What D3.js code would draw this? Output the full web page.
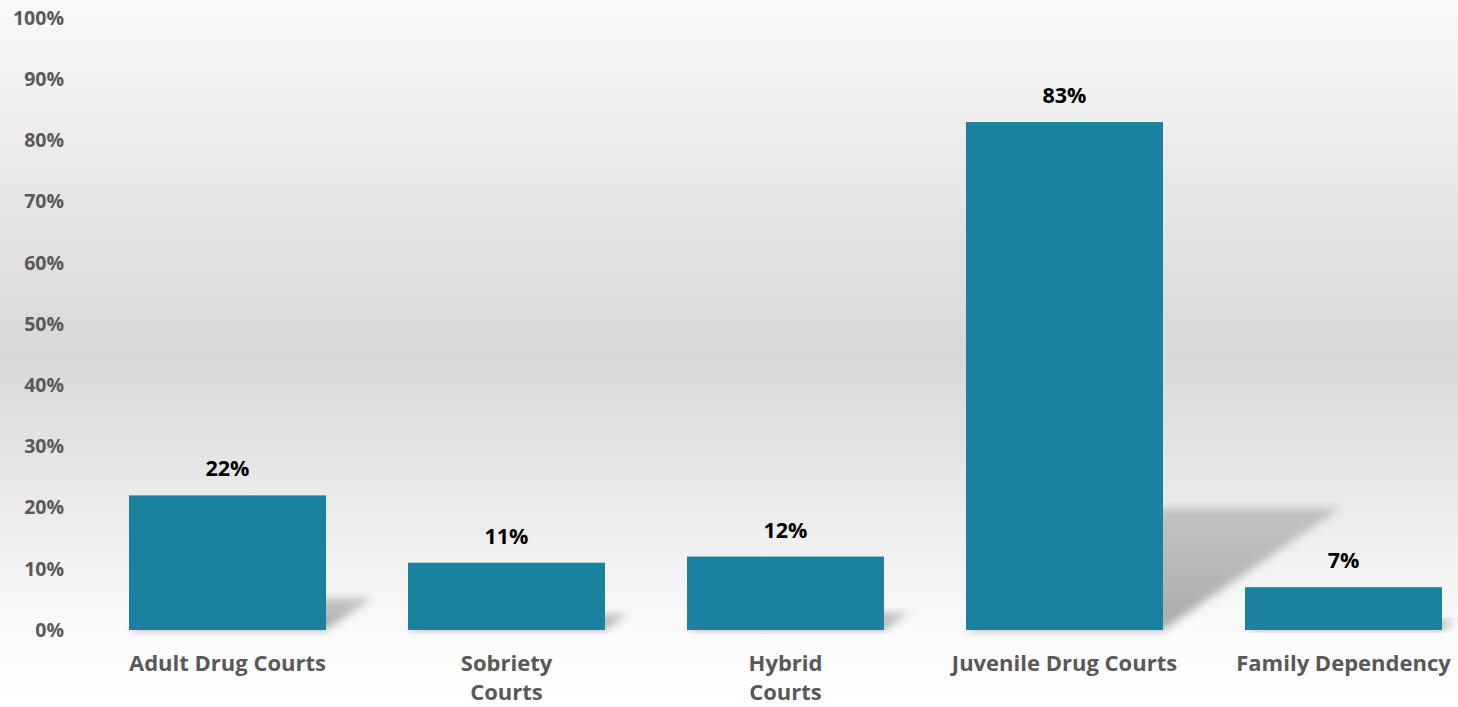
<!DOCTYPE html>
<html><head><meta charset="utf-8">
<script src="https://cdn.jsdelivr.net/npm/d3@7"></script>
<style>html,body{margin:0;padding:0;background:#fff;}svg{display:block;}</style>
</head><body>
<script>
const categories = ["Adult Drug Courts", "Sobriety\nCourts", "Hybrid\nCourts", "Juvenile Drug Courts", "Family Dependency"];
const values = [22, 11, 12, 83, 7];
const yTicks = [0,10,20,30,40,50,60,70,80,90,100];

const W = 1458, H = 707;
const FONT = "'Open Sans', Lato, sans-serif";
const svg = d3.select("body").append("svg").attr("width", W).attr("height", H);
const defs = svg.append("defs");
const bg = defs.append("linearGradient").attr("id","bg").attr("x1",0).attr("y1",0).attr("x2",0).attr("y2",1);
bg.append("stop").attr("offset","0").attr("stop-color","#f9f9f9");
bg.append("stop").attr("offset","0.5").attr("stop-color","#d8d8d8");
bg.append("stop").attr("offset","0.9").attr("stop-color","#fbfbfb");
bg.append("stop").attr("offset","1").attr("stop-color","#ffffff");
svg.append("rect").attr("width",W).attr("height",H).attr("fill","url(#bg)");

const blur = defs.append("filter").attr("id","blur").attr("x","-20%").attr("y","-20%").attr("width","140%").attr("height","140%");
blur.append("feGaussianBlur").attr("stdDeviation",4);
const sg = defs.append("linearGradient").attr("id","sg").attr("x1",0).attr("y1",1).attr("x2",0).attr("y2",0);
sg.append("stop").attr("offset","0").attr("stop-color","#a5a5a5").attr("stop-opacity",0.95);
sg.append("stop").attr("offset","1").attr("stop-color","#adadad").attr("stop-opacity",0.65);

const x = d3.scaleBand().domain(categories).range([88,1483]).paddingInner(0.294).paddingOuter(0.147);
const y = d3.scaleLinear().domain([0,100]).range([630,18]);

// shadows
svg.append("g").selectAll("path").data(categories).join("path")
  .attr("d",(c,i)=>{
    const x0 = x(c), x1 = x(c)+x.bandwidth(), b = y(0);
    const h = b - y(values[i]);
    const sh = h*0.24, dx = h*0.35;
    return `M${x0},${b}L${x1},${b}L${x1+dx},${b-sh}L${x0+dx},${b-sh}Z`;
  })
  .attr("fill","url(#sg)").attr("filter","url(#blur)");

// bars
svg.append("g").selectAll("rect").data(categories).join("rect")
  .attr("x",c=>x(c)).attr("width",x.bandwidth())
  .attr("y",(c,i)=>y(values[i])).attr("height",(c,i)=>y(0)-y(values[i]))
  .attr("fill","#1a819f");

// value labels
svg.append("g").selectAll("text").data(categories).join("text")
  .attr("x",c=>x(c)+x.bandwidth()/2).attr("y",(c,i)=>y(values[i])-19)
  .attr("text-anchor","middle").attr("font-family",FONT)
  .attr("font-weight","bold").attr("font-size",21.5).attr("fill","#000")
  .text((c,i)=>values[i]+"%");

// y axis
const ya = svg.append("g").attr("transform","translate(64,0)")
  .call(d3.axisLeft(y).tickValues(yTicks).tickFormat(d=>d+"%").tickSize(0).tickPadding(0));
ya.select(".domain").remove();
ya.selectAll("text").attr("font-family",FONT).attr("font-weight","bold")
  .attr("font-size",19.5).attr("fill","#595959");

// x axis
const xa = svg.append("g").attr("transform","translate(0,630)")
  .call(d3.axisBottom(x).tickSize(0).tickFormat(""));
xa.select(".domain").remove();
xa.selectAll(".tick").each(function(c){
  const t = d3.select(this).append("text").attr("text-anchor","middle")
    .attr("font-family",FONT).attr("font-weight","bold")
    .attr("font-size",22).attr("fill","#595959");
  c.split("\n").forEach((line,k)=>{
    t.append("tspan").attr("x",0).attr("y",41+k*29).text(line);
  });
});
</script>
</body></html>
